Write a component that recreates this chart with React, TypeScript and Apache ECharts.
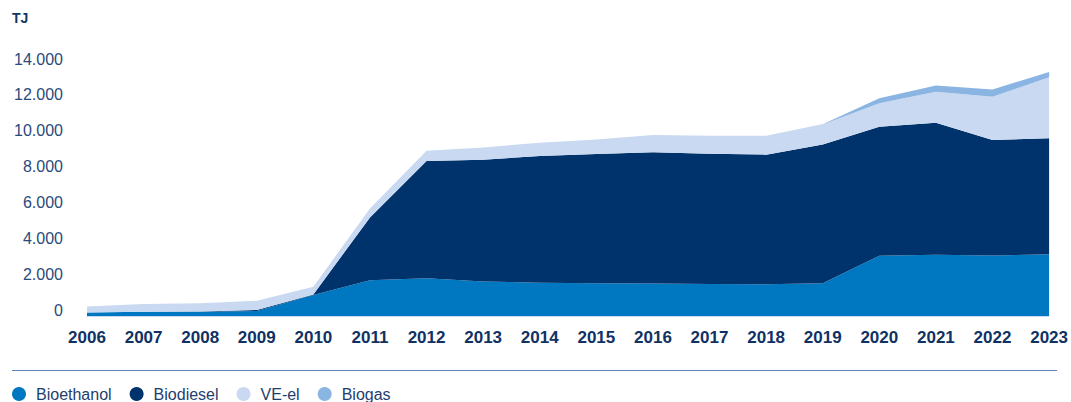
import React, { useEffect, useRef } from "react";
import * as echarts from "echarts";

const years = ["2006","2007","2008","2009","2010","2011","2012","2013","2014","2015","2016","2017","2018","2019","2020","2021","2022","2023"];
const bioethanol = [190, 240, 240, 280, 1170, 2000, 2100, 1930, 1850, 1820, 1810, 1790, 1770, 1830, 3360, 3420, 3380, 3440];
const biodiesel = [0, 0, 10, 60, 30, 3500, 6540, 6790, 7070, 7210, 7320, 7260, 7230, 7730, 7200, 7360, 6440, 6470];
const veEl = [340, 430, 460, 510, 430, 500, 580, 680, 750, 820, 960, 1010, 1060, 1120, 1300, 1730, 2410, 3400];
const biogas = [0, 0, 0, 0, 0, 0, 0, 0, 0, 0, 0, 0, 0, 20, 280, 340, 410, 300];
const yTicks = [0, 2000, 4000, 6000, 8000, 10000, 12000, 14000];

const names = ["Bioethanol", "Biodiesel", "VE-el", "Biogas"];
const colors = ["#0077c1", "#00336b", "#c9d9f1", "#8ab5e2"];
const seriesData = [bioethanol, biodiesel, veEl, biogas];

const fmt = (v: number) => String(v).replace(/\B(?=(\d{3})+(?!\d))/g, ".");

export default function App() {
  const ref = useRef<HTMLDivElement>(null);
  useEffect(() => {
    if (!ref.current) return;
    const chart = echarts.init(ref.current, null, { renderer: "svg" });
    chart.setOption({
      animation: false,
      backgroundColor: "#ffffff",
      textStyle: { fontFamily: "Liberation Sans, Arial, sans-serif" },
      grid: { left: 87, right: 19, top: 65, bottom: 86, containLabel: false },
      legend: {
        left: 12,
        top: 386,
        padding: 0,
        icon: "circle",
        itemWidth: 14,
        itemHeight: 14,
        itemGap: 18,
        data: names,
        textStyle: { color: "#1f3d6e", fontSize: 16, padding: [0, 0, 0, 5] },
      },
      graphic: [
        {
          type: "text",
          left: 12,
          top: 11,
          style: { text: "TJ", fill: "#123766", font: "bold 14px Liberation Sans, Arial, sans-serif" },
        },
        {
          type: "line",
          shape: { x1: 12, y1: 370.5, x2: 1057, y2: 370.5 },
          style: { stroke: "#5d82b8", lineWidth: 1 },
        },
      ],
      xAxis: {
        type: "category",
        data: years,
        boundaryGap: false,
        axisLine: { show: true, lineStyle: { color: "#c9d9f1", width: 1 } },
        axisTick: { show: false },
        axisLabel: { color: "#0f3163", fontSize: 17, fontWeight: "bold", margin: 13, interval: 0 },
        splitLine: { show: false },
      },
      yAxis: {
        type: "value",
        min: 0,
        max: 14000,
        interval: 2000,
        axisLine: { show: false },
        axisTick: { show: false },
        splitLine: { show: false },
        axisLabel: {
          color: "#2a4a7c",
          fontSize: 16,
          margin: 24,
          verticalAlign: "bottom",
          lineHeight: 12,
          formatter: (v: number) => (yTicks.includes(v) ? fmt(v) : ""),
        },
      },
      series: seriesData.map((d, i) => ({
        name: names[i],
        type: "line",
        stack: "total",
        data: d,
        symbol: "none",
        showSymbol: false,
        lineStyle: { width: 0 },
        areaStyle: { color: colors[i], opacity: 1 },
        itemStyle: { color: colors[i] },
        emphasis: { disabled: true },
      })),
    });
    return () => chart.dispose();
  }, []);
  return <div ref={ref} style={{ position: "fixed", left: 0, top: 0, width: 1071, height: 402 }} />;
}
